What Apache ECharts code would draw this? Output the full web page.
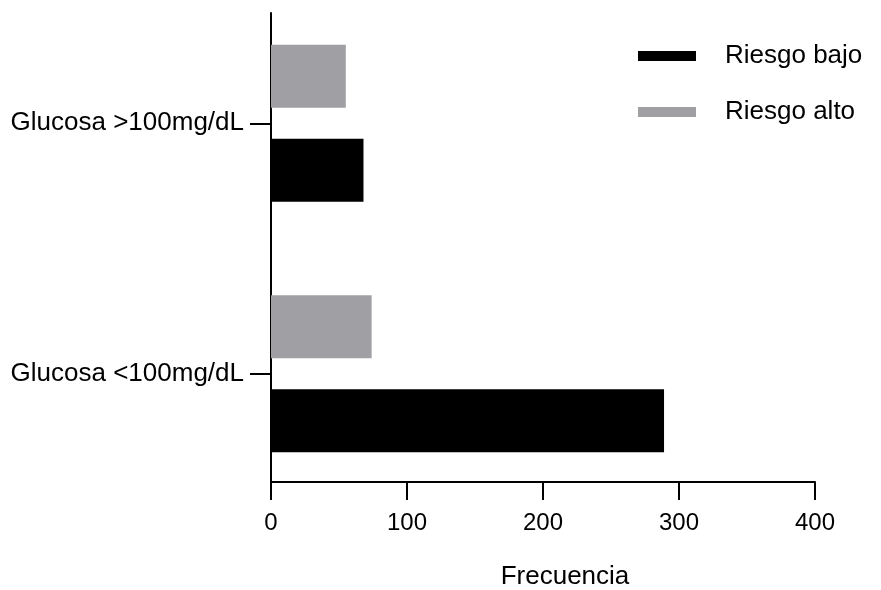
<!DOCTYPE html>
<html>
<head>
<meta charset="utf-8">
<script src="https://cdn.jsdelivr.net/npm/echarts@6/dist/echarts.min.js"></script>
<style>html,body{margin:0;padding:0;background:#fff}#c{width:881px;height:590px}</style>
</head>
<body>
<div id="c"></div>
<script>
const categories = ['Glucosa <100mg/dL', 'Glucosa >100mg/dL'];
const seriesNames = ['Riesgo bajo', 'Riesgo alto'];
const riesgoBajo = [289, 68];
const riesgoAlto = [74, 55];
const xTicks = [0, 100, 200, 300, 400];
const axisTitle = 'Frecuencia';

const FONT = '"Liberation Sans", Arial, sans-serif';
const chart = echarts.init(document.getElementById('c'), null, {renderer: 'canvas'});
chart.setOption({
  animation: false,
  backgroundColor: '#ffffff',
  legend: {
    orient: 'vertical',
    left: 633,
    top: 38,
    itemWidth: 58,
    itemHeight: 10,
    itemGap: 30,
    icon: 'rect',
    data: seriesNames,
    textStyle: {fontFamily: FONT, fontSize: 26, color: '#000', lineHeight: 26, padding: [0, 0, 0, 24]}
  },
  grid: [
    {left: 271, right: 66, top: -2, bottom: 91, containLabel: false, outerBoundsMode: 'none'},
    {left: 271, right: 66, top: 13, bottom: 108, containLabel: false, outerBoundsMode: 'none'}
  ],
  xAxis: [
    {gridIndex: 0, type: 'value', min: xTicks[0], max: xTicks[xTicks.length - 1], show: false},
    {
      gridIndex: 1, type: 'value', min: xTicks[0], max: xTicks[xTicks.length - 1], interval: 100,
      axisLine: {show: true, onZero: false, lineStyle: {color: '#000', width: 2}},
      axisTick: {show: true, length: 18, lineStyle: {color: '#000', width: 2}},
      axisLabel: {fontFamily: FONT, fontSize: 24, color: '#000', margin: 29},
      splitLine: {show: false},
      name: axisTitle,
      nameLocation: 'middle',
      nameGap: 82,
      nameMoveOverlap: false,
      nameTextStyle: {fontFamily: FONT, fontSize: 26, color: '#000', padding: [0, 0, 0, 44]}
    }
  ],
  yAxis: [
    {
      gridIndex: 0, type: 'category', data: categories,
      axisLine: {show: false},
      axisTick: {show: true, alignWithLabel: true, length: 21, lineStyle: {color: '#000', width: 2}},
      axisLabel: {fontFamily: FONT, fontSize: 26, color: '#000', margin: 27}
    },
    {
      gridIndex: 1, type: 'value', min: 0, max: 1,
      axisLine: {show: true, onZero: false, lineStyle: {color: '#000', width: 2}},
      axisTick: {show: false}, axisLabel: {show: false}, splitLine: {show: false}
    }
  ],
  series: [
    {name: seriesNames[1], type: 'bar', xAxisIndex: 0, yAxisIndex: 0, data: riesgoAlto,
     barWidth: 63, barGap: '49%', itemStyle: {color: '#a09fa3'}},
    {name: seriesNames[0], type: 'bar', xAxisIndex: 0, yAxisIndex: 0, data: riesgoBajo,
     barWidth: 63, barGap: '49%', itemStyle: {color: '#000000'}}
  ]
});
</script>
</body>
</html>
